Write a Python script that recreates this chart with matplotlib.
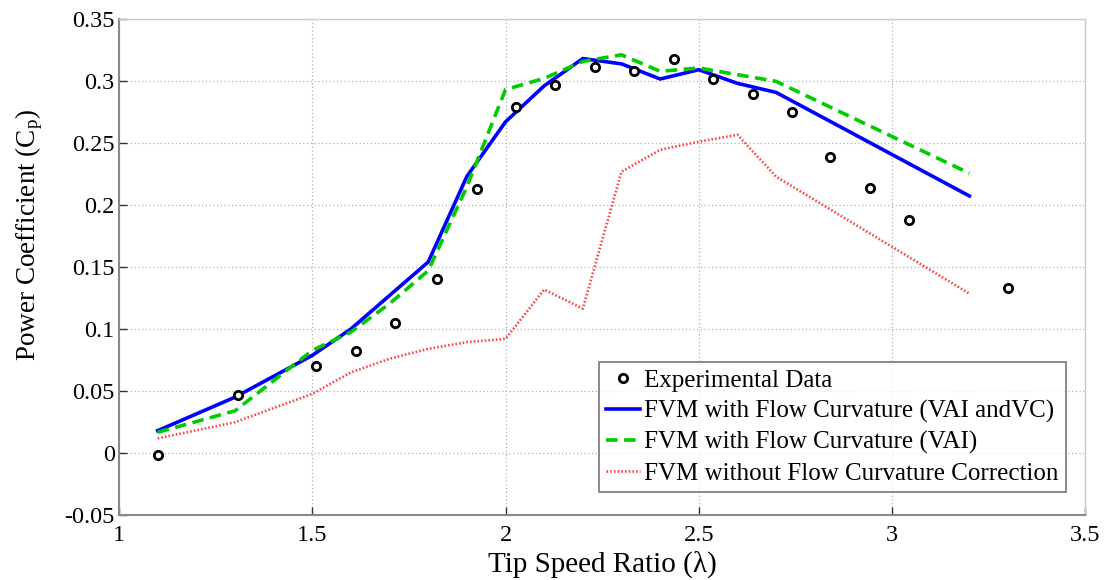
import matplotlib
matplotlib.use("Agg")
import matplotlib.pyplot as plt
from matplotlib.ticker import FixedLocator, FixedFormatter

plt.rcParams['font.family'] = ['Liberation Serif', 'DejaVu Serif']
plt.rcParams['mathtext.fontset'] = 'custom'
plt.rcParams['mathtext.rm'] = 'Liberation Serif'
plt.rcParams['mathtext.it'] = 'Liberation Serif:italic'

# Experimental power coefficient
exp_tsr = [1.10, 1.307, 1.509, 1.613, 1.715, 1.822, 1.925, 2.027, 2.127, 2.231,
           2.332, 2.436, 2.537, 2.640, 2.740, 2.839, 2.942, 3.044, 3.300]
exp_cp = [-0.002, 0.047, 0.070, 0.082, 0.105, 0.140, 0.2126, 0.279, 0.2967, 0.311,
          0.3077, 0.3177, 0.3018, 0.2897, 0.2746, 0.239, 0.214, 0.1878, 0.133]

# FVM with flow curvature (VAI and VC)
vaivc_tsr = [1.1, 1.3, 1.5, 1.6, 1.7, 1.8, 1.9, 2.0, 2.1, 2.2, 2.3, 2.4, 2.5, 2.6, 2.7, 3.2]
vaivc_cp = [0.018, 0.045, 0.0787, 0.100, 0.127, 0.154, 0.223, 0.267, 0.296, 0.318,
            0.3137, 0.3015, 0.309, 0.298, 0.2907, 0.2072]

# FVM with flow curvature (VAI)
vai_tsr = [1.1, 1.3, 1.5, 1.6, 1.7, 1.8, 1.9, 2.0, 2.1, 2.2, 2.3, 2.4, 2.5, 2.7, 3.2]
vai_cp = [0.0167, 0.034, 0.0827, 0.0975, 0.1204, 0.147, 0.2147, 0.2930, 0.302, 0.3157,
          0.321, 0.3077, 0.3104, 0.2996, 0.2255]

# FVM without flow curvature correction
nofc_tsr = [1.1, 1.3, 1.5, 1.6, 1.7, 1.8, 1.9, 2.0, 2.1, 2.2, 2.3, 2.4, 2.5, 2.6, 2.7, 3.2]
nofc_cp = [0.0118, 0.0248, 0.0477, 0.065, 0.076, 0.084, 0.0894, 0.092, 0.1318, 0.1164,
           0.2268, 0.2444, 0.251, 0.2565, 0.2228, 0.1285]

xticks = [1, 1.5, 2, 2.5, 3, 3.5]
xtick_labels = ['1', '1.5', '2', '2.5', '3', '3.5']
yticks = [-0.05, 0, 0.05, 0.1, 0.15, 0.2, 0.25, 0.3, 0.35]
ytick_labels = ['-0.05', '0', '0.05', '0.1', '0.15', '0.2', '0.25', '0.3', '0.35']

fig = plt.figure(figsize=(11.05, 5.8), dpi=100)
ax = fig.add_axes([0.1077, 0.112, 0.8745, 0.8555])

ax.plot(exp_tsr, exp_cp, linestyle='none', marker='o', markersize=6,
        markerfacecolor='white', markeredgecolor='black', markeredgewidth=2,
        label='Experimental Data', zorder=5)
ax.plot(vaivc_tsr, vaivc_cp, color='#0000ff', linewidth=2.6,
        label='FVM with Flow Curvature (VAI andVC)', zorder=3)
ax.plot(vai_tsr, vai_cp, color='#00cc00', linewidth=2.6, linestyle=(0, (3.2, 1.8)),
        label='FVM with Flow Curvature (VAI)', zorder=4)
ax.plot(nofc_tsr, nofc_cp, color='#ff4040', linewidth=1.9, linestyle=(0, (0.6, 0.8)),
        label='FVM without Flow Curvature Correction', zorder=2)

ax.set_xlim(1, 3.5)
ax.set_ylim(-0.05, 0.35)
ax.xaxis.set_major_locator(FixedLocator(xticks))
ax.xaxis.set_major_formatter(FixedFormatter(xtick_labels))
ax.yaxis.set_major_locator(FixedLocator(yticks))
ax.yaxis.set_major_formatter(FixedFormatter(ytick_labels))
ax.tick_params(direction='in', length=6, width=1, colors='#333333',
               labelsize=17.5, labelcolor='black', pad=3)
ax.tick_params(axis='x', pad=7)
ax.grid(True, color='#b0b0b0', linestyle=(0, (1, 2)), linewidth=0.9)
for s in ax.spines.values():
    s.set_color('#cccccc')
    s.set_linewidth(1)
ax.spines['left'].set_color('#888888')
ax.spines['bottom'].set_color('#888888')
ax.spines['left'].set_linewidth(1.5)
ax.spines['bottom'].set_linewidth(1.5)

ax.set_xlabel('Tip Speed Ratio (λ)', fontsize=21)
ax.xaxis.set_label_coords(0.5, -0.072)
ax.set_ylabel(r'Power Coefficient (C$_\mathrm{p}$)', fontsize=19.5)
ax.yaxis.set_label_coords(-0.077, 0.565)

leg = ax.legend(loc='lower right', bbox_to_anchor=(0.9795, 0.046), fontsize=18,
                frameon=True, fancybox=False, handlelength=1.35, handletextpad=0.15,
                borderpad=0.3, labelspacing=0.32, borderaxespad=0)
leg.get_frame().set_edgecolor('#555555')
leg.get_frame().set_linewidth(1.2)

fig.savefig('out.png', dpi=100)
